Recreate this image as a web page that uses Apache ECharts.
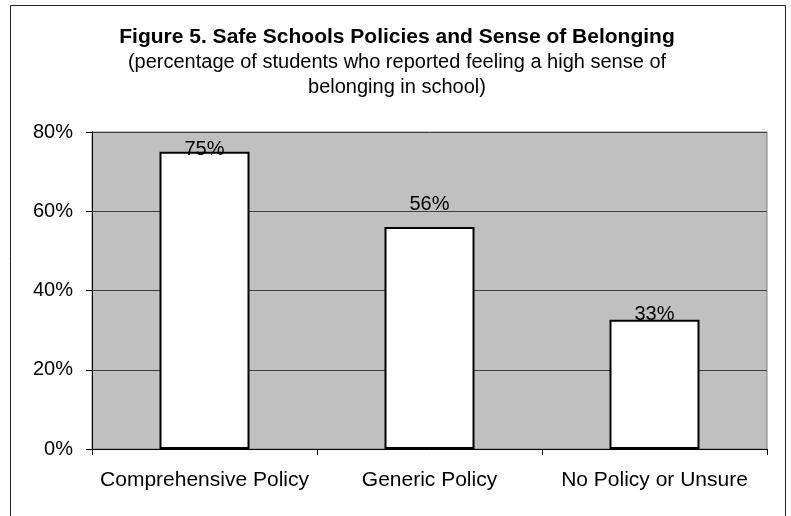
<!DOCTYPE html>
<html>
<head>
<meta charset="utf-8">
<script src="https://cdn.jsdelivr.net/npm/echarts@6/dist/echarts.min.js"></script>
<style>
html,body{margin:0;padding:0;background:#fff;}
#c{width:791px;height:516px;}
</style>
</head>
<body>
<div id="c"></div>
<script>
var titleText = 'Figure 5. Safe Schools Policies and Sense of Belonging';
var subtitleLines = ['(percentage of students who reported feeling a high sense of', 'belonging in school)'];
var categories = ['Comprehensive Policy', 'Generic Policy', 'No Policy or Unsure'];
var values = [75, 56, 32.6];
var yTicks = [0, 20, 40, 60, 80];

var labelDistances = [-8, 13, -5];

var chart = echarts.init(document.getElementById('c'), null, {renderer: 'canvas'});
var font = '"Liberation Sans", Arial, sans-serif';
chart.setOption({
  animation: false,
  backgroundColor: '#fff',
  graphic: [{
    type: 'rect', z: -10, silent: true,
    shape: {x: 10.5, y: 5.5, width: 775, height: 530},
    style: {fill: '#fff', stroke: '#222', lineWidth: 1}
  }, {
    type: 'text', x: 397, y: 37,
    style: {text: titleText, font: 'bold 21px ' + font, fill: '#000', align: 'center', verticalAlign: 'middle'}
  }, {
    type: 'text', x: 397, y: 62,
    style: {text: subtitleLines[0], font: '20px ' + font, fill: '#000', align: 'center', verticalAlign: 'middle'}
  }, {
    type: 'text', x: 397, y: 87,
    style: {text: subtitleLines[1], font: '20px ' + font, fill: '#000', align: 'center', verticalAlign: 'middle'}
  }],
  grid: {
    left: 92, right: 24, top: 132, bottom: 67,
    show: true, backgroundColor: '#C0C0C0', borderColor: '#808080', borderWidth: 1
  },
  xAxis: {
    type: 'category',
    data: categories,
    axisLine: {lineStyle: {color: '#000', width: 1}},
    axisTick: {show: true, alignWithLabel: false, length: 6, lineStyle: {color: '#000'}},
    axisLabel: {interval: 0, fontFamily: font, fontSize: 21, color: '#000', margin: 21}
  },
  yAxis: {
    type: 'value',
    min: yTicks[0], max: yTicks[yTicks.length - 1], interval: 20,
    axisLine: {show: true, lineStyle: {color: '#000', width: 1}},
    axisTick: {show: true, length: 6, lineStyle: {color: '#000'}},
    splitLine: {show: true, lineStyle: {color: '#404040', width: 1}},
    axisLabel: {fontFamily: font, fontSize: 20, color: '#000', margin: 19,
      formatter: function (v) { return v + '%'; }}
  },
  series: [{
    type: 'bar',
    barWidth: '40%',
    data: values.map(function (v, i) {
      return {value: v, label: {distance: labelDistances[i]}};
    }),
    itemStyle: {color: '#fff', borderColor: '#000', borderWidth: 2},
    label: {
      show: true, position: 'top',
      fontFamily: font, fontSize: 20, color: '#000',
      formatter: function (p) { return Math.round(p.value) + '%'; }
    }
  }]
});
</script>
</body>
</html>
